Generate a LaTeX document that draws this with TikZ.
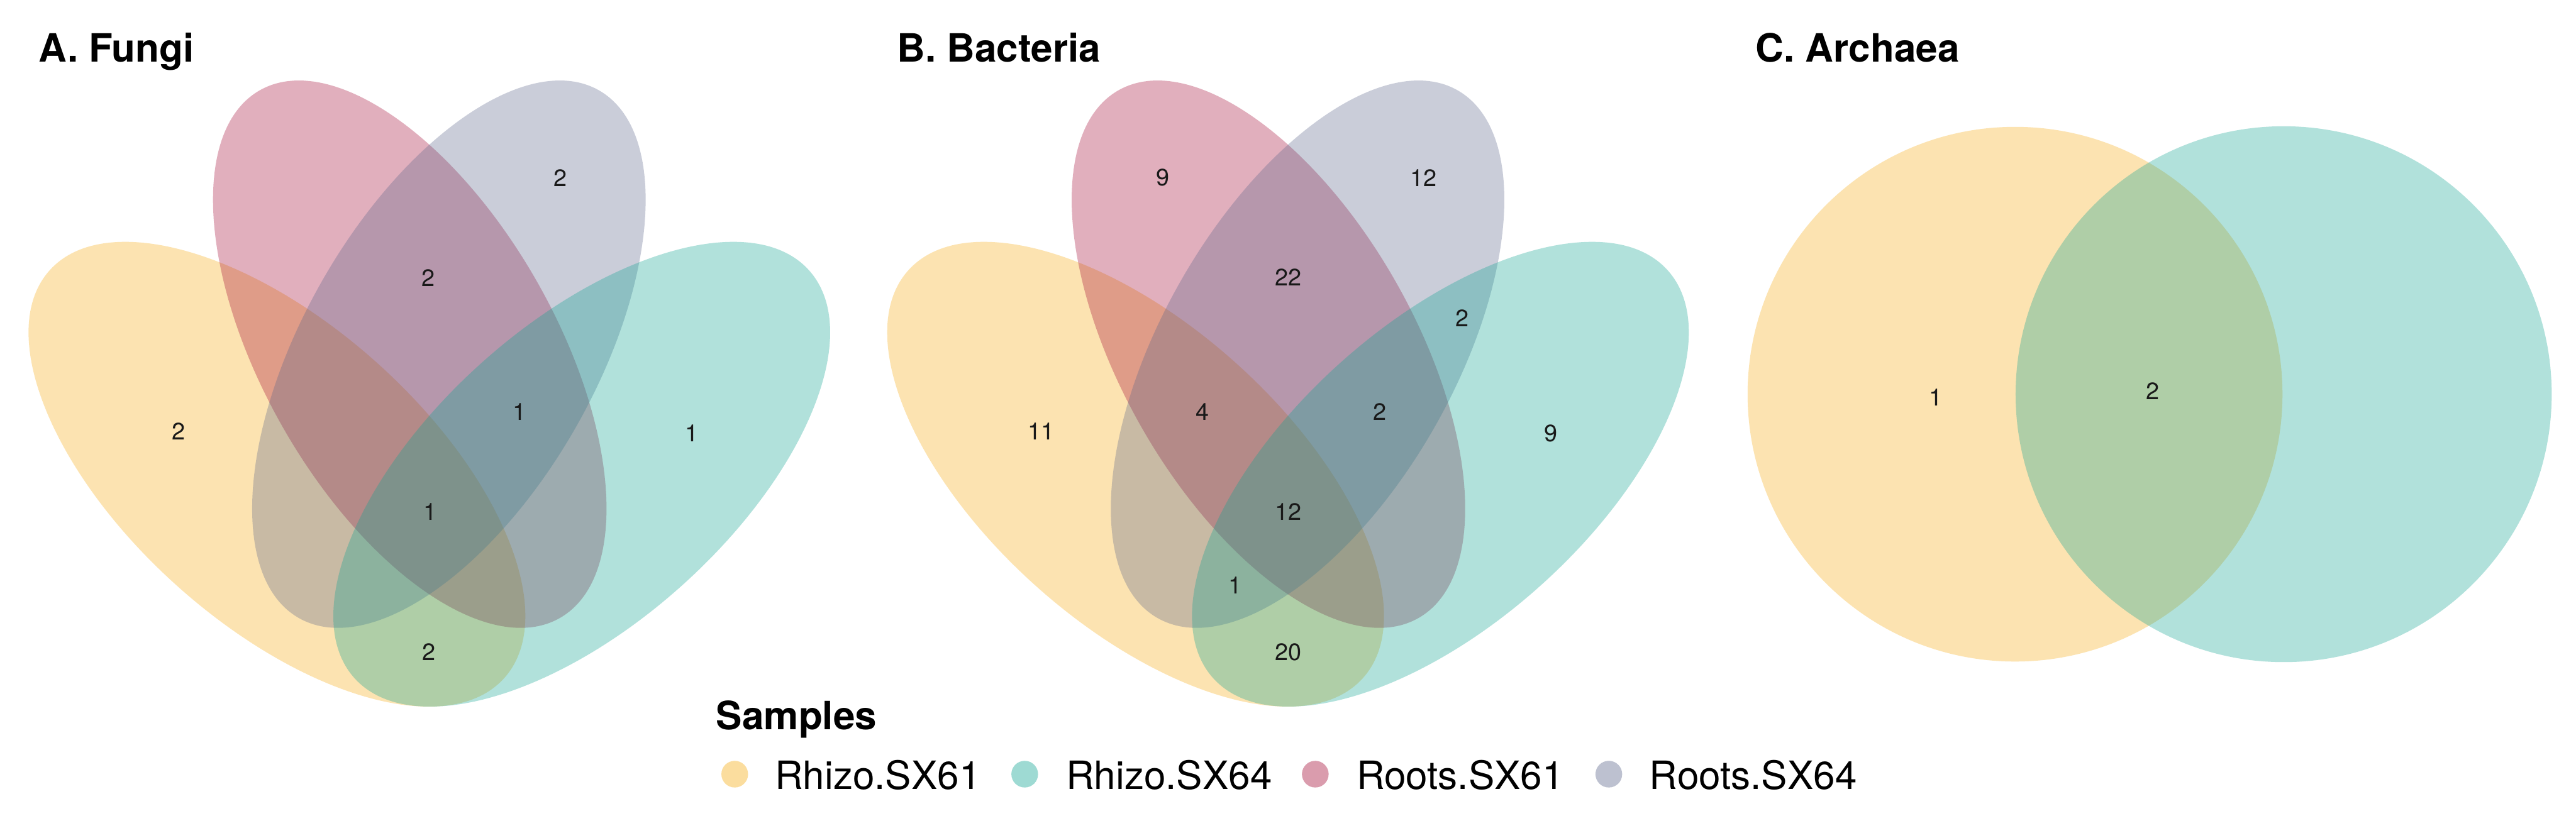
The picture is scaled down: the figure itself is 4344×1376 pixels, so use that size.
\documentclass[tikz,border=0pt]{standalone}
\usepackage{fontspec}
\setmainfont{TeX Gyre Heros}
\definecolor{cY}{RGB}{246,171,14}
\definecolor{cT}{RGB}{14,164,146}
\definecolor{cP}{RGB}{164,8,52}
\definecolor{cG}{RGB}{92,102,139}
\definecolor{numtext}{RGB}{25,25,25}
\tikzset{
  venn/.style={fill opacity=0.32},
  num/.style={font=\fontsize{11.4}{13}\selectfont, text=numtext, inner sep=0pt},
  ttl/.style={font=\fontsize{18.7}{22}\selectfont\bfseries, anchor=base west, inner sep=0pt},
  leg/.style={font=\fontsize{18.7}{22}\selectfont, anchor=base west, inner sep=0pt},
  legdot/.style={circle, minimum size=0.45cm, inner sep=0pt, fill opacity=0.4}
}
\begin{document}
\begin{tikzpicture}[x=0.01cm,y=0.01cm]
\fill[white] (0,0) rectangle (4344,-1376);
\useasboundingbox (0,0) rectangle (4344,-1376);

% ---------- Panel A ----------
\begin{scope}
\fill[cY, venn, shift={(467,-800)}, rotate=-41.9] (0,0) ellipse [x radius=515, y radius=252.6];
\fill[cP, venn, shift={(691,-597.5)}, rotate=-60.4] (0,0) ellipse [x radius=512, y radius=247];
\fill[cG, venn, shift={(757,-597.5)}, rotate=60.4] (0,0) ellipse [x radius=512, y radius=247];
\fill[cT, venn, shift={(981,-800)}, rotate=41.9] (0,0) ellipse [x radius=515, y radius=252.6];
\end{scope}
\node[ttl] (ta) at (64,-104) {A. Fungi};
\node[num] (a1) at (945,-300) {2};
\node[num] (a2) at (722,-469) {2};
\node[num] (a3) at (301,-728) {2};
\node[num] (a4) at (876,-695) {1};
\node[num] (a5) at (1167,-731) {1};
\node[num] (a6) at (725,-863) {1};
\node[num] (a7) at (723,-1100) {2};

% ---------- Panel B ----------
\begin{scope}[shift={(1448,0)}]
\fill[cY, venn, shift={(467,-800)}, rotate=-41.9] (0,0) ellipse [x radius=515, y radius=252.6];
\fill[cP, venn, shift={(691,-597.5)}, rotate=-60.4] (0,0) ellipse [x radius=512, y radius=247];
\fill[cG, venn, shift={(757,-597.5)}, rotate=60.4] (0,0) ellipse [x radius=512, y radius=247];
\fill[cT, venn, shift={(981,-800)}, rotate=41.9] (0,0) ellipse [x radius=515, y radius=252.6];
\end{scope}
\node[ttl] (tb) at (1512,-104) {B. Bacteria};
\node[num] (b1) at (1961,-300) {9};
\node[num] (b2) at (2401,-300) {12};
\node[num] (b3) at (2172,-468) {22};
\node[num] (b4) at (2466,-537) {2};
\node[num] (b5) at (2028,-695) {4};
\node[num] (b6) at (2327,-695) {2};
\node[num] (b7) at (1756,-728) {11};
\node[num] (b8) at (2615,-731) {9};
\node[num] (b9) at (2172,-863) {12};
\node[num] (b10) at (2083,-987) {1};
\node[num] (b11) at (2172,-1100) {20};

% ---------- Panel C ----------
\fill[cY, venn] (3398,-665) circle [radius=451];
\fill[cT, venn] (3851,-665) circle [radius=452];
\node[ttl] (tc) at (2960,-104) {C. Archaea};
\node[num] (c1) at (3264,-670) {1};
\node[num] (c2) at (3630,-660) {2};

% ---------- Legend ----------
\node[ttl] (lt) at (1207,-1231) {Samples};
\node[legdot, fill=cY] (d1) at (1239,-1306) {};
\node[leg] (l1) at (1306,-1332) {Rhizo.SX61};
\node[legdot, fill=cT] (d2) at (1728,-1306) {};
\node[leg] (l2) at (1797,-1332) {Rhizo.SX64};
\node[legdot, fill=cP] (d3) at (2218,-1306) {};
\node[leg] (l3) at (2287,-1332) {Roots.SX61};
\node[legdot, fill=cG] (d4) at (2713,-1306) {};
\node[leg] (l4) at (2781,-1332) {Roots.SX64};
\end{tikzpicture}
\end{document}
